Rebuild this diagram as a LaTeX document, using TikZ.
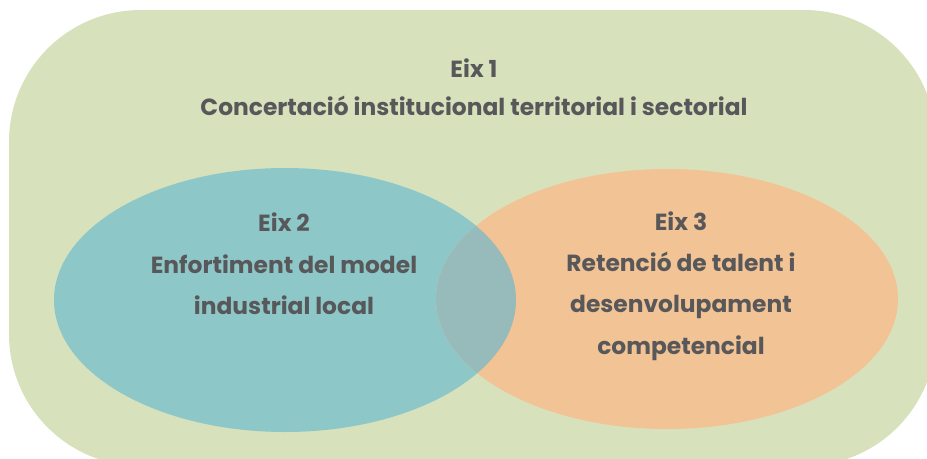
\documentclass[tikz,border=0pt]{standalone}
\usepackage{fontspec}
\setmainfont{Poppins}
\definecolor{fonsverd}{HTML}{D7E2BD}
\definecolor{eixblau}{HTML}{8EC7C8}
\definecolor{eixtaronja}{HTML}{F2C394}
\definecolor{eixmix}{HTML}{96BBBA}
\definecolor{textgris}{HTML}{58585A}
\tikzset{
  eixtext/.style={text=textgris,font=\bfseries\fontsize{13.3}{23.5}\selectfont,align=center}
}
\begin{document}
\begin{tikzpicture}[x=0.02cm,y=-0.02cm]
\useasboundingbox (0,0) rectangle (927,458);
\begin{scope}
\clip (0,0) rectangle (927,458);
\fill[fonsverd,rounded corners=75] (9,10) rectangle (936,466);
\end{scope}
% els dos eixos
\fill[eixblau] (285,300) ellipse [x radius=231,y radius=132];
\fill[eixtaronja] (667,299) ellipse [x radius=231,y radius=130];
\begin{scope}
\clip (285,300) ellipse [x radius=231,y radius=132];
\fill[eixmix] (667,299) ellipse [x radius=231,y radius=130];
\end{scope}
\node[eixtext,font=\bfseries\fontsize{13.3}{21.5}\selectfont] (eix1) at (474,87) {Eix 1\\Concertació institucional territorial i sectorial};
\node[eixtext] (eix2) at (284,264) {Eix 2\\Enfortiment del model\\industrial local};
\node[eixtext] (eix3) at (681,286) {Eix 3\\Retenció de talent i\\desenvolupament\\competencial};
\end{tikzpicture}
\end{document}
